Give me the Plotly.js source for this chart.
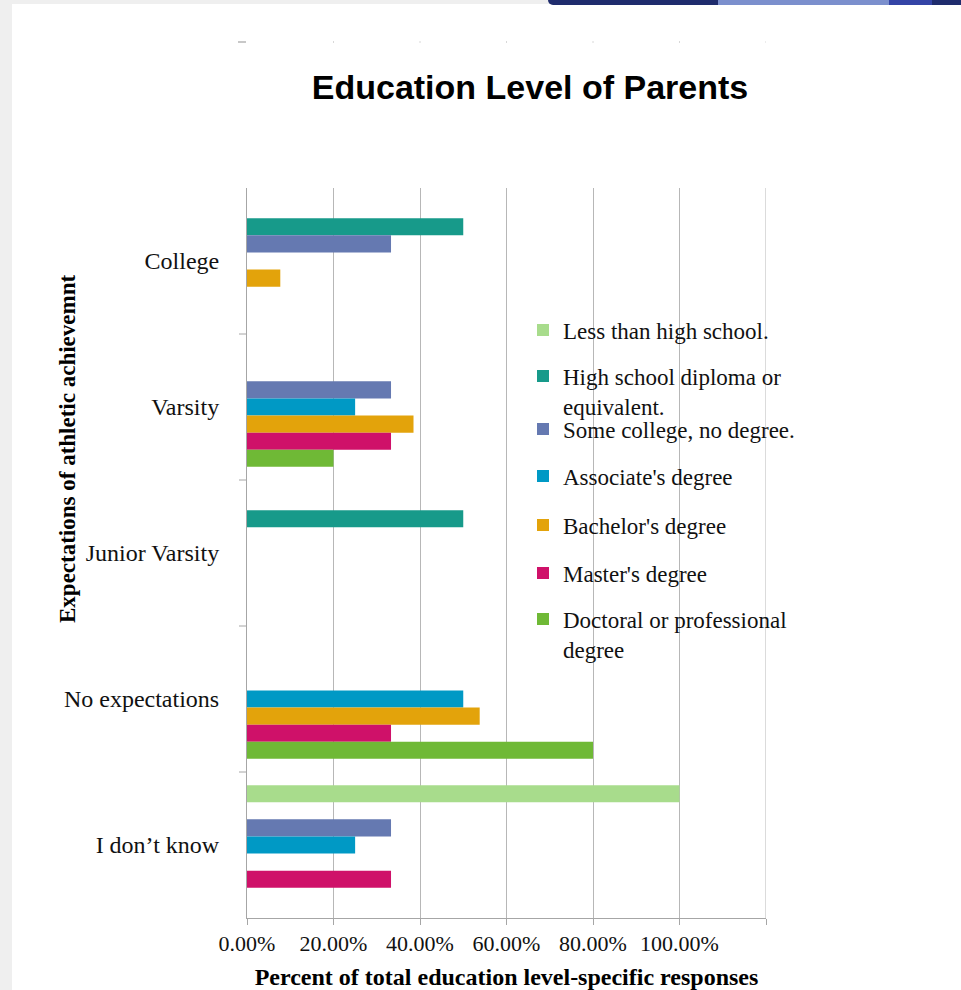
<!DOCTYPE html>
<html>
<head>
<meta charset="utf-8">
<script src="https://cdn.plot.ly/plotly-3.0.1.min.js"></script>
<style>
  html, body { margin: 0; padding: 0; background: #ffffff; }
  #chart { width: 961px; height: 990px; }
  .strip { position: absolute; z-index: 10; }
</style>
</head>
<body>
<div id="chart"></div>
<div class="strip" style="left:0;top:0;width:12px;height:990px;background:#efefef;"></div>
<div class="strip" style="left:0;top:0;width:961px;height:4px;background:#efefef;"></div>
<div class="strip" style="left:548px;top:0;width:170px;height:5px;background:#1f2c6d;border-bottom-left-radius:6px;"></div>
<div class="strip" style="left:718px;top:0;width:171px;height:5px;background:#7b8fcd;"></div>
<div class="strip" style="left:889px;top:0;width:43px;height:5px;background:#3444a6;"></div>
<div class="strip" style="left:932px;top:0;width:29px;height:5px;background:#1f2c6d;"></div>
<script>
// ---- data ----
const categories = ['College', 'Varsity', 'Junior Varsity', 'No expectations', 'I don’t know'];

const seriesNames = [
  'Less than high school.',
  'High school diploma or<br>equivalent.',
  'Some college, no degree.',
  "Associate's degree",
  "Bachelor's degree",
  "Master's degree",
  'Doctoral or professional<br>degree'
];

const lessThanHighSchool = [null, null, null, null, 1.00];
const highSchoolDiploma  = [0.50, null, 0.50, null, null];
const someCollege        = [0.333, 0.333, null, null, 0.333];
const associateDegree    = [null, 0.25, null, 0.50, 0.25];
const bachelorDegree     = [0.077, 0.385, null, 0.538, null];
const masterDegree       = [null, 0.333, null, 0.333, 0.333];
const doctoralDegree     = [null, 0.20, null, 0.80, null];

const xTickVals = [0, 0.2, 0.4, 0.6, 0.8, 1.0, 1.2];
const xTickText = ['0.00%', '20.00%', '40.00%', '60.00%', '80.00%', '100.00%', ''];

// ---- styling ----
const seriesValues = [lessThanHighSchool, highSchoolDiploma, someCollege, associateDegree,
                      bachelorDegree, masterDegree, doctoralDegree];
const colors = ['#a8dc8c', '#179a8a', '#6579b1', '#0099c5', '#e3a30b', '#cf1169', '#6fb936'];

const serif = '"Times New Roman", "Liberation Serif", serif';
const sans = 'Arial, "Liberation Sans", sans-serif';

// plot area in page pixels
const L = 247, R = 766, T = 188, B = 918, W = 961, H = 990;
const px2x = p => (p - L) / (R - L);
const px2y = p => (B - p) / (B - T);

// legend entry centres (page px)
const legendCentres = [330, 391, 429, 476, 525, 573, 634];

const traces = seriesValues.map((vals, i) => ({
  type: 'bar',
  orientation: 'h',
  name: seriesNames[i],
  y: categories,
  x: vals,
  marker: { color: colors[i], line: { width: 0 } },
  legend: i === 0 ? 'legend' : 'legend' + (i + 1),
  hoverinfo: 'x+name'
}));

const layout = {
  width: W, height: H,
  margin: { l: L, r: W - R, t: T, b: H - B, pad: 0 },
  paper_bgcolor: '#ffffff',
  plot_bgcolor: '#ffffff',
  barmode: 'group',
  bargap: 0.18,
  bargroupgap: 0,
  showlegend: true,
  title: {
    text: 'Education Level of Parents',
    font: { family: sans, size: 34, color: '#000000', weight: 'bold' },
    xref: 'container', yref: 'container',
    x: 530 / W, y: 1 - 87 / H, xanchor: 'center', yanchor: 'middle'
  },
  xaxis: {
    range: [0, 1.2],
    tickvals: xTickVals,
    ticktext: xTickText,
    showgrid: true, gridcolor: '#b7b7b7', gridwidth: 1,
    zeroline: false,
    showline: true, linecolor: '#a6a6a6', linewidth: 1,
    ticks: 'outside', ticklen: 6, tickcolor: '#a6a6a6',
    tickfont: { family: serif, size: 22, color: '#111111' },
    title: {
      text: 'Percent of total education level-specific responses',
      font: { family: serif, size: 24, color: '#000000', weight: 'bold' },
      standoff: 13
    },
    fixedrange: true
  },
  yaxis: {
    type: 'category',
    categoryorder: 'array',
    categoryarray: categories,
    autorange: 'reversed',
    showgrid: false, zeroline: false,
    showline: true, linecolor: '#a6a6a6', linewidth: 1,
    ticks: '',
    ticklabelstandoff: 22,
    tickfont: { family: serif, size: 24, color: '#111111' },
    fixedrange: true
  },
  annotations: [{
    text: 'Expectations of athletic achievemnt',
    xref: 'paper', yref: 'paper',
    x: px2x(67), y: px2y(449),
    xanchor: 'center', yanchor: 'middle',
    textangle: -90, showarrow: false,
    font: { family: serif, size: 23, color: '#000000', weight: 'bold' }
  }],
  shapes: [0.5, 1.5, 2.5, 3.5].map(v => ({
    type: 'line', xref: 'paper', yref: 'y',
    x0: -8 / (R - L), x1: 0, y0: v, y1: v,
    line: { color: '#a6a6a6', width: 1 }
  })).concat([{
    // right-most gridline at the axis end (120%)
    type: 'line', xref: 'x', yref: 'paper', layer: 'below',
    x0: xTickVals[xTickVals.length - 1], x1: xTickVals[xTickVals.length - 1], y0: 0, y1: 1,
    line: { color: '#b7b7b7', width: 1 }
  }]).concat(xTickVals.slice(1).map(v => ({
    type: 'line', xref: 'x', yref: 'paper',
    x0: v, x1: v, y0: px2y(41), y1: px2y(43),
    line: { color: '#d8d8d8', width: 1 }
  }))).concat([{
    type: 'line', xref: 'paper', yref: 'paper',
    x0: -9 / (R - L), x1: -1 / (R - L), y0: px2y(42), y1: px2y(42),
    line: { color: '#c8c8c8', width: 2 }
  }])
};

seriesNames.forEach((n, i) => {
  const key = i === 0 ? 'legend' : 'legend' + (i + 1);
  layout[key] = {
    x: px2x(523), y: px2y(legendCentres[i]),
    xanchor: 'left', yanchor: 'middle',
    valign: 'top',
    bgcolor: 'rgba(0,0,0,0)', borderwidth: 0,
    font: { family: serif, size: 23, color: '#111111' },
    itemclick: false, itemdoubleclick: false
  };
});

Plotly.newPlot('chart', traces, layout, { displayModeBar: false, staticPlot: true });
</script>
</body>
</html>
